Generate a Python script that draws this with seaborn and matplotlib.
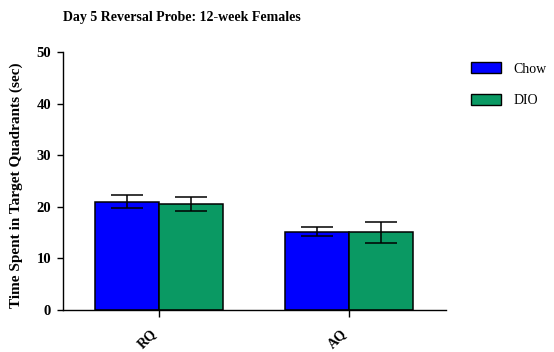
import matplotlib
matplotlib.use("Agg")
import matplotlib.pyplot as plt
import seaborn as sns
import pandas as pd

# ---- data ----
quadrants = ["RQ", "AQ"]
diets = ["Chow", "DIO"]
chow_mean = [21.0, 15.15]
chow_sem = [1.2, 0.9]
dio_mean = [20.5, 15.1]
dio_sem = [1.35, 2.05]
y_ticks = [0, 10, 20, 30, 40, 50]
title = "Day 5 Reversal Probe: 12-week Females"
ylabel = "Time Spent in Target Quadrants (sec)"
colors = ["#0000ff", "#0a9963"]

df = pd.DataFrame({
    "Quadrant": quadrants * 2,
    "Diet": [diets[0]] * 2 + [diets[1]] * 2,
    "Time": chow_mean + dio_mean,
})
sems = {diets[0]: chow_sem, diets[1]: dio_sem}

sns.set_style("ticks")
plt.rcParams["font.family"] = ["Liberation Serif", "DejaVu Serif"]
for k in ["text.color", "axes.labelcolor", "xtick.color", "ytick.color",
          "axes.edgecolor"]:
    plt.rcParams[k] = "black"

fig = plt.figure(figsize=(5.54, 3.52), dpi=100)
ax = fig.add_axes([0.1132, 0.1193, 0.692, 0.733])

sns.barplot(data=df, x="Quadrant", y="Time", hue="Diet", order=quadrants,
            hue_order=diets, palette=colors, edgecolor="black", linewidth=1.1,
            width=0.672, gap=0, errorbar=None, saturation=1, ax=ax)

for cont, d in zip(ax.containers, diets):
    xs = [b.get_x() + b.get_width() / 2 for b in cont]
    hs = [b.get_height() for b in cont]
    ax.errorbar(xs, hs, yerr=sems[d], fmt="none", ecolor="black",
                elinewidth=1.1, capsize=11.5, capthick=1.1, zorder=5)

ax.set_ylim(0, 50)
ax.set_xlim(-0.504, 1.507)
ax.set_yticks(y_ticks)
ax.set_yticklabels([str(t) for t in y_ticks], fontsize=10.5, fontweight="bold")
ax.set_xticks(range(len(quadrants)))
ax.set_xticklabels(quadrants, rotation=45, ha="right", fontsize=10,
                   fontweight="bold")
ax.tick_params(axis="y", length=4.5, width=1.0, pad=4, colors="black")
ax.tick_params(axis="x", length=5, width=1.0, pad=7, colors="black")
for s in ["top", "right"]:
    ax.spines[s].set_visible(False)
for s in ["left", "bottom"]:
    ax.spines[s].set_linewidth(1.0)
    ax.spines[s].set_color("black")

ax.set_xlabel("")
ax.set_ylabel(ylabel, fontsize=11, fontweight="bold")
ax.yaxis.set_label_coords(-0.104, 0.484)

ax.set_title(title, loc="left", fontsize=10, fontweight="bold", pad=22)

leg = ax.legend(loc="upper left", bbox_to_anchor=(0.8497, 0.824),
                bbox_transform=fig.transFigure, frameon=False, fontsize=10,
                handlelength=2.15, handleheight=0.9, handletextpad=0.95,
                labelspacing=1.3, borderpad=0, borderaxespad=0)
for h in leg.get_patches():
    h.set_edgecolor("black")
    h.set_linewidth(1.0)

fig.savefig("out.png", dpi=100)
